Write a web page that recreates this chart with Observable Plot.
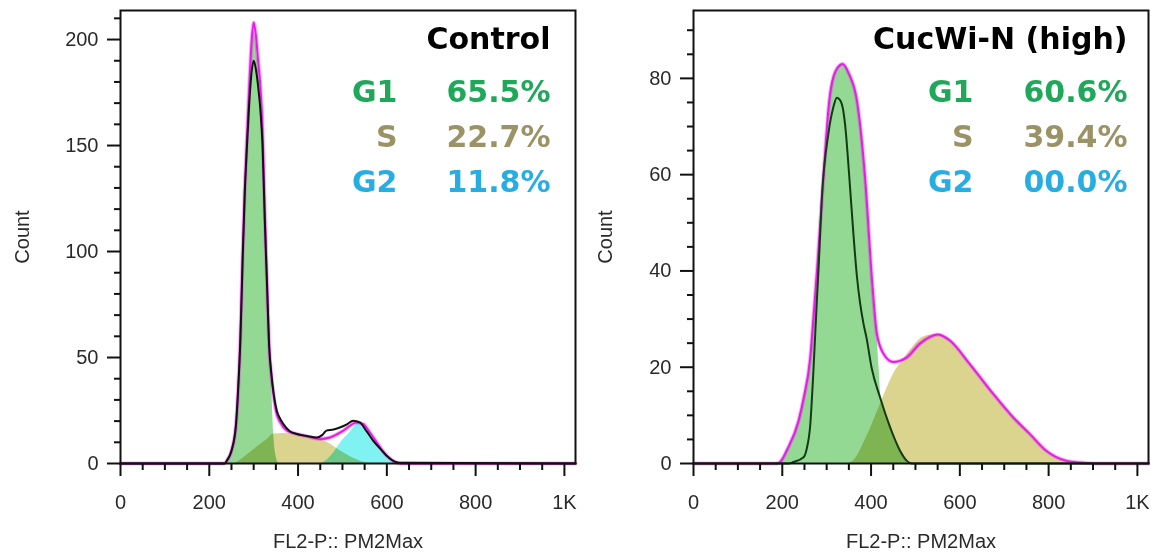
<!DOCTYPE html>
<html><head><meta charset="utf-8">
<script src="https://cdn.jsdelivr.net/npm/d3@7"></script>
<script src="https://cdn.jsdelivr.net/npm/@observablehq/plot@0.6"></script>
<style>
html,body{margin:0;padding:0;background:#fff;}
#wrap{display:flex;width:1151px;height:557px;overflow:hidden;}
#wrap svg{display:block;}
</style></head><body><div id="wrap"></div>
<script>
// ---------- axis ticks ----------
const xMajor = [0, 200, 400, 600, 800, 1000];
const xMajorLabels = ["0", "200", "400", "600", "800", "1K"];
const xMinor = [50, 100, 150, 250, 300, 350, 450, 500, 550, 650, 700, 750, 850, 900, 950];
const ctrlYMajor = [0, 50, 100, 150, 200];
const ctrlYMinor = [10, 20, 30, 40, 60, 70, 80, 90, 110, 120, 130, 140, 160, 170, 180, 190, 210];
const cucYMajor = [0, 20, 40, 60, 80];
const cucYMinor = [5, 10, 15, 25, 30, 35, 45, 50, 55, 65, 70, 75, 85, 90];

// ---------- labels ----------
const phases = ["G1", "S", "G2"];
const ctrlTitle = "Control";
const ctrlPct = ["65.5%", "22.7%", "11.8%"];
const cucTitle = "CucWi-N (high)";
const cucPct = ["60.6%", "39.4%", "00.0%"];

// ---------- Control panel ----------
const ctrlFitX = [0, 232, 240, 250, 260, 265, 270, 275, 280, 285, 290, 295, 300, 305, 310, 315, 320, 325, 330, 335, 340, 345, 350, 360, 375, 397, 420, 449, 472, 502, 532, 547, 562, 577, 600, 618, 632, 1025];
const ctrlFitY = [0, 0, 1.4, 6, 18, 35, 60, 98, 130, 155, 178, 198, 208, 202, 190, 178, 158, 120, 86, 55, 41, 32, 25, 19.4, 15.5, 13.9, 12.8, 11.6, 12.3, 15.5, 19.4, 18.6, 14.5, 10, 3.6, 0.8, 0, 0];
const ctrlDataX = [0, 235, 240, 250, 260, 265, 270, 275, 280, 285, 290, 295, 300, 305, 310, 315, 320, 325, 330, 335, 340, 345, 352, 360, 367, 380, 397, 420, 442, 455, 464, 480, 494, 510, 524, 539, 555, 569, 585, 599, 618, 637, 1025];
const ctrlDataY = [0, 0, 1.5, 6, 18, 35, 58, 95, 128, 150, 170, 184, 190, 186, 178, 167, 150, 115, 85, 55, 42, 33, 25, 21, 18.6, 15.5, 13.9, 13, 12.3, 13.5, 15.5, 16, 17, 18.5, 20.2, 19.4, 15, 10.8, 7, 3.8, 0.9, 0.3, 0];
const ctrlG1X = [225, 240, 250, 260, 265, 270, 275, 280, 285, 290, 295, 300, 305, 310, 315, 320, 325, 330, 335, 340, 345, 350, 356];
const ctrlG1Y = [0, 0.6, 5, 17, 33, 57, 94, 126, 150, 172, 193, 204, 199, 187, 175, 155, 117, 84, 52, 39, 14, 4, 0];
const ctrlSX = [258, 270, 285, 300, 315, 330, 345, 367, 397, 420, 442, 455, 472, 494, 517, 535, 547, 562];
const ctrlSY = [0, 1.5, 4, 6.5, 9, 11.2, 13.9, 14.2, 13.9, 12.8, 12, 11, 9.2, 6.1, 3.3, 1.5, 0.6, 0];
const ctrlG2X = [455, 464, 480, 494, 505, 517, 527, 536, 545, 555, 565, 577, 590, 600, 610, 618, 630];
const ctrlG2Y = [0, 1.4, 5, 9.2, 12, 14.7, 17.5, 19.4, 18.5, 15.5, 12.5, 9.8, 6, 3.6, 1.8, 0.6, 0];

// ---------- CucWi-N (high) panel ----------
const cucFitX = [0, 188, 195, 210, 237, 248, 263, 270, 279, 293, 306, 320, 336, 350, 368, 386, 403, 413, 428, 450, 480, 510, 533, 550, 577, 622, 675, 720, 757, 794, 839, 885, 905, 1025];
const cucFitY = [0, 0, 0.3, 2.7, 9, 13.5, 22, 30, 41, 60, 75.5, 81.5, 83, 81, 75.5, 60, 37, 27, 22.8, 21.1, 22, 24.9, 26.3, 26.8, 25.6, 20.7, 14.5, 9.6, 6.2, 2.7, 0.6, 0.1, 0, 0];
const cucDataX = [0, 215, 225, 248, 255, 263, 270, 278, 282, 289, 304, 315, 323, 330, 337, 343, 349, 360, 368, 375, 383, 390, 401, 420, 443, 465, 480, 492, 1025];
const cucDataY = [0, 0, 0.3, 1.3, 3, 8, 19, 34, 41, 55, 68.6, 74, 76, 75.5, 73.5, 69, 62, 48, 39, 33.5, 29, 26, 20, 13.8, 7.5, 2.7, 0.6, 0, 0];
const cucG1X = [185, 195, 210, 237, 248, 263, 270, 279, 293, 306, 320, 336, 350, 368, 386, 400, 408, 413, 418, 422, 432, 443, 455, 465, 482];
const cucG1Y = [0, 0.3, 2.7, 9, 13.5, 22, 30, 41, 60, 75.5, 81.5, 83, 81, 75.5, 60, 40, 31, 27, 20, 14, 10.5, 7.5, 4.3, 2.7, 0];
const cucSX = [350, 360, 390, 424, 450, 472, 488, 518, 548, 577, 622, 675, 720, 757, 794, 839, 885, 905];
const cucSY = [0, 0.5, 5.5, 13, 18.5, 21.5, 23.5, 26.3, 26.8, 25.6, 20.7, 14.5, 9.6, 6.2, 2.7, 0.6, 0.1, 0];

// ---------- colours ----------
const g1Fill = "#93d993", sFill = "#dad48e", g2Fill = "#80f2f2";
const fitColor = "#e41ee4";
const phaseColors = ["#1fa85a", "#9b9266", "#28ade3"];

function pts(xs, ys) { return xs.map((x, i) => ({x, y: ys[i]})); }

function panel(c) {
  const curve = "monotone-x";
  const marks = [
    Plot.areaY(pts(c.g1x, c.g1y), {x: "x", y: "y", fill: g1Fill, curve}),
    Plot.areaY(pts(c.sx, c.sy), {x: "x", y: "y", fill: sFill, curve, mixBlendMode: "multiply"})
  ];
  if (c.g2x) marks.push(Plot.areaY(pts(c.g2x, c.g2y), {x: "x", y: "y", fill: g2Fill, curve, mixBlendMode: "multiply"}));
  marks.push(
    Plot.lineY(pts(c.fitx, c.fity), {x: "x", y: "y", stroke: fitColor, strokeWidth: 4, strokeOpacity: 0.35, curve}),
    Plot.lineY(pts(c.fitx, c.fity), {x: "x", y: "y", stroke: fitColor, strokeWidth: 2, curve}),
    Plot.lineY(pts(c.datax, c.datay), {x: "x", y: "y", stroke: c.dataColor, strokeWidth: 2, curve}),
    Plot.frame({stroke: "#111", strokeWidth: 2}),
    Plot.axisX({ticks: xMinor, tickSize: 7, tickFormat: () => "", label: null, strokeWidth: 2, stroke: "#111"}),
    Plot.axisX({ticks: xMajor, tickSize: 13, tickPadding: 18, strokeWidth: 2, stroke: "#111",
      tickFormat: d => xMajorLabels[xMajor.indexOf(d)], fontSize: 20, fill: "#2a2a2a",
      label: "FL2-P:: PM2Max", labelAnchor: "center", labelOffset: 84, labelArrow: "none"}),
    Plot.axisY({ticks: c.yMinor, tickSize: 6, tickFormat: () => "", label: null, strokeWidth: 2, stroke: "#111"}),
    Plot.axisY({ticks: c.yMajor, tickSize: 13, tickPadding: 9, strokeWidth: 2, stroke: "#111",
      fontSize: 20, fill: "#2a2a2a",
      label: "Count", labelAnchor: "center", labelOffset: c.labelOffset, labelArrow: "none"}),
    Plot.text([c.title], {frameAnchor: "top-right", text: d => d, dx: c.tdx, dy: 38, lineAnchor: "bottom",
      fontSize: 30, fontWeight: "bold", fontFamily: "DejaVu Sans", fill: "#000"})
  );
  phases.forEach((p, i) => {
    marks.push(
      Plot.text([p], {frameAnchor: "top-right", text: d => d, dx: c.ldx, dy: 91 + 45 * i, lineAnchor: "bottom",
        fontSize: 30, fontWeight: "bold", fontFamily: "DejaVu Sans", fill: phaseColors[i]}),
      Plot.text([c.pct[i]], {frameAnchor: "top-right", text: d => d, dx: c.tdx, dy: 91 + 45 * i, lineAnchor: "bottom",
        fontSize: 30, fontWeight: "bold", fontFamily: "DejaVu Sans", fill: phaseColors[i]})
    );
  });
  return Plot.plot({
    width: c.width, height: 557,
    marginLeft: c.ml, marginRight: c.mr, marginTop: 10, marginBottom: 94,
    x: {domain: [0, 1025]},
    y: {domain: [0, c.ymax]},
    style: {fontFamily: "'Liberation Sans', Arial, sans-serif", background: "white", color: "#222", overflow: "visible"},
    marks
  });
}

const wrap = document.getElementById("wrap");
wrap.appendChild(panel({
  width: 580, ml: 120, mr: 5, ymax: 213.7, yMajor: ctrlYMajor, yMinor: ctrlYMinor, labelOffset: 106,
  g1x: ctrlG1X, g1y: ctrlG1Y, sx: ctrlSX, sy: ctrlSY, g2x: ctrlG2X, g2y: ctrlG2Y,
  fitx: ctrlFitX, fity: ctrlFitY, datax: ctrlDataX, datay: ctrlDataY, dataColor: "#111",
  title: ctrlTitle, pct: ctrlPct, tdx: -25, ldx: -178
}));
wrap.appendChild(panel({
  width: 571, ml: 113, mr: 3, ymax: 94.1, yMajor: cucYMajor, yMinor: cucYMinor, labelOffset: 96,
  g1x: cucG1X, g1y: cucG1Y, sx: cucSX, sy: cucSY,
  fitx: cucFitX, fity: cucFitY, datax: cucDataX, datay: cucDataY, dataColor: "#143a14",
  title: cucTitle, pct: cucPct, tdx: -21, ldx: -175
}));
</script></body></html>
